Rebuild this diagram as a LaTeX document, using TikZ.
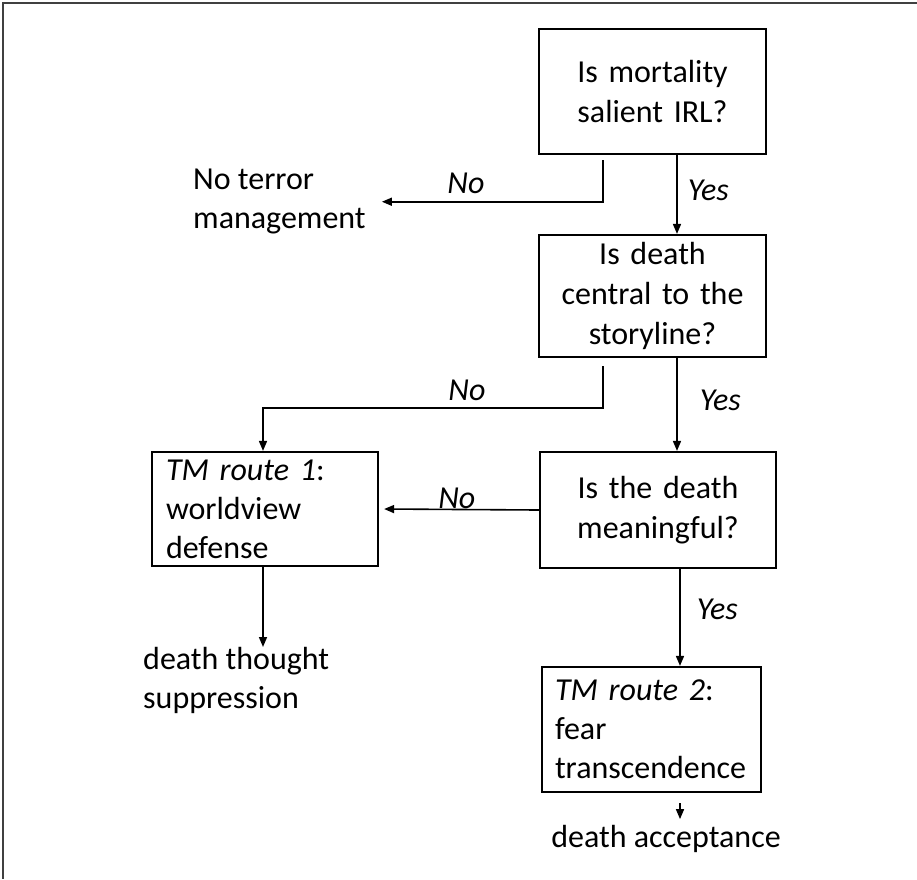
\documentclass[tikz,border=0pt]{standalone}
\usepackage{fontspec}
\setmainfont{Carlito}
\usetikzlibrary{arrows.meta}

\tikzset{
  qbox/.style={draw, line width=2.2pt, align=center, inner xsep=10pt,
    font=\fontsize{32}{40}\selectfont},
  routebox/.style={draw, line width=2.2pt, align=left, inner xsep=14pt,
    font=\fontsize{32}{39}\selectfont},
  outcome/.style={align=left, inner sep=0pt, font=\fontsize{32}{39}\selectfont},
  lbl/.style={inner sep=0pt, font=\fontsize{32}{39}\selectfont\itshape},
  arr/.style={line width=1.6pt, -{Triangle[length=10pt,width=8pt]}},
  plain/.style={line width=1.6pt}
}

\begin{document}
\begin{tikzpicture}[x=1pt, y=-1pt]
            %\draw[lightgray] (0, 0) grid[step=50] (917, 879);
            \useasboundingbox (0, 0) rectangle (917, 879);
            \draw[line width=1.5pt, black!75] (917, 3) -- (3, 3) -- (3, 879);

            % question boxes
            \node[qbox, text width=207pt, minimum height=125pt] (mortal) at (652.5, 91.5) {Is mortality\\salient IRL?};
            \node[qbox, text width=207pt, minimum height=122pt] (central) at (652.5, 296) {Is death\\central to the\\storyline?};
            \node[qbox, text width=216pt, minimum height=116pt] (meaning) at (658, 510) {Is the death\\meaningful?};

            % routes
            \node[routebox, text width=198pt, minimum height=114pt] (route1) at (265, 509) {\textit{TM route 1}:\\worldview\\defense};
            \node[routebox, inner xsep=13pt, text width=193pt, minimum height=125pt] (route2) at (651.5, 729.5) {\textit{TM route 2}:\\fear\\transcendence};

            % outcomes
            \node[outcome, anchor=north west] (noterror) at (193, 169) {No terror\\management};
            \node[outcome, anchor=north west] (suppress) at (143, 647) {death thought\\suppression};
            \node[outcome, anchor=base] (accept) at (666, 847) {death acceptance};

            % no branches
            \draw[arr] ([xshift=-49.5pt, yshift=-5pt]mortal.south) |- ([xshift=16pt]noterror.east)
                node[lbl, pos=0.81, above=7pt] (no1) {No};
            \draw[arr] ([xshift=-49.5pt, yshift=-8pt]central.south) -- ++(0, 42)
                -| ([xshift=-2pt]route1.north) node[lbl, pos=0.2, above=7pt] (no2) {No};
            \draw[arr] (meaning.west) -- ([xshift=5pt]route1.east)
                node[lbl, pos=0.53, anchor=base, yshift=1pt] (no3) {No};

            % yes branches
            \draw[arr] ([xshift=24.5pt]mortal.south) -- ([xshift=24.5pt]mortal.south |- central.north)
                node[lbl, pos=0.45, right=10pt] (yes1) {Yes};
            \draw[arr] ([xshift=24.5pt]central.south) -- ([xshift=24.5pt]central.south |- meaning.north)
                node[lbl, pos=0.46, right=22pt] (yes2) {Yes};
            \draw[arr] ([xshift=22pt]meaning.south) -- ([xshift=22pt]meaning.south |- route2.north)
                node[lbl, pos=0.42, right=16pt] (yes3) {Yes};

            % results
            \draw[arr] ([xshift=-2pt]route1.south) -- ([xshift=-2pt]route1.south |- suppress.north);
            \draw[arr] ([xshift=28.5pt, yshift=-10pt]route2.south) -- ([xshift=28.5pt, yshift=-26pt]route2.south);
        \end{tikzpicture}
\end{document}
